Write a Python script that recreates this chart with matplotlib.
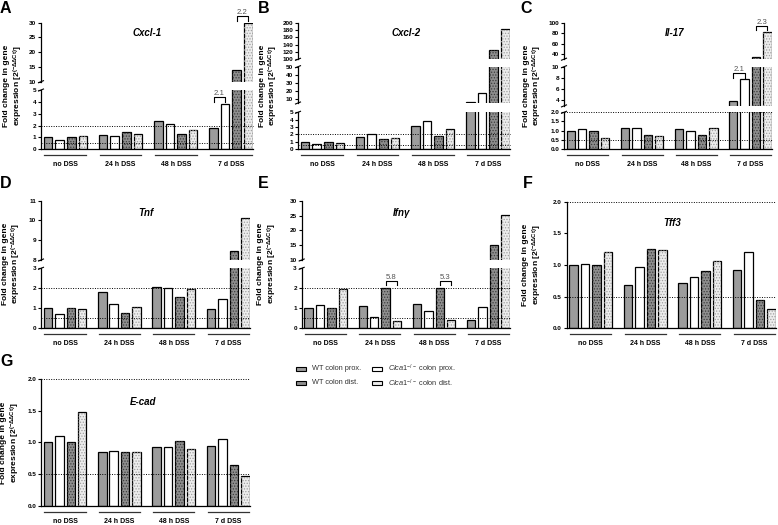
import numpy as np
import matplotlib
matplotlib.use('Agg')
import matplotlib.pyplot as plt
import matplotlib.transforms as mtransforms
from matplotlib.lines import Line2D
from matplotlib.patches import Rectangle

plt.rcParams['font.family'] = ['Liberation Sans', 'DejaVu Sans']
plt.rcParams['mathtext.fontset'] = 'custom'
plt.rcParams['mathtext.rm'] = 'Liberation Sans'
plt.rcParams['mathtext.it'] = 'Liberation Sans:italic'
plt.rcParams['mathtext.bf'] = 'Liberation Sans:bold'
plt.rcParams['hatch.linewidth'] = 0.6

# groups on the x axis
groups = ['no DSS', '24 h DSS', '48 h DSS', '7 d DSS']

# per gene: rows = WT prox, Clca1-/- prox, WT dist, Clca1-/- dist ; columns = groups
cxcl1 = [[1.0, 1.2, 2.4, 1.8],
         [0.79, 1.15, 2.1, 3.8],
         [1.0, 1.45, 1.3, 13.8],
         [1.1, 1.33, 1.65, 29.8]]
cxcl2 = [[1.0, 1.7, 3.2, 6.5],
         [0.73, 2.1, 3.85, 17.0],
         [1.0, 1.38, 1.8, 125.0],
         [0.87, 1.5, 2.7, 183.0]]
il17 = [[1.0, 1.13, 1.07, 3.8],
        [1.1, 1.16, 0.98, 7.75],
        [1.0, 0.78, 0.78, 35.0],
        [0.6, 0.69, 1.15, 82.0]]
tnf = [[1.0, 1.79, 2.07, 0.93],
       [0.67, 1.18, 2.02, 1.43],
       [1.0, 0.76, 1.53, 8.47],
       [0.93, 1.05, 1.94, 10.1]]
ifng = [[1.0, 1.1, 1.2, 0.39],
        [1.15, 0.54, 0.84, 1.05],
        [1.0, 2.02, 2.02, 15.1],
        [1.96, 0.35, 0.39, 25.2]]
tff3 = [[1.0, 0.69, 0.72, 0.92],
        [1.01, 0.97, 0.81, 1.21],
        [1.0, 1.26, 0.91, 0.45],
        [1.21, 1.23, 1.07, 0.30]]
ecad = [[1.0, 0.84, 0.93, 0.94],
        [1.1, 0.87, 0.92, 1.05],
        [1.0, 0.85, 1.02, 0.64],
        [1.48, 0.84, 0.90, 0.47]]

face = ['#9c9c9c', 'white', '#8e8e8e', '#ededed']
hatch_col = [None, None, '#3c3c3c', '#a0a0a0']

W, H = 778, 525
fig = plt.figure(figsize=(W / 100, H / 100), dpi=100)


def fx(x):
    return x / W


def fy(y):
    return 1 - y / H


def fig_line(xs, ys, **kw):
    fig.add_artist(Line2D([fx(x) for x in xs], [fy(y) for y in ys],
                          transform=fig.transFigure, **kw))


PITCH = 4.75
WIDTH = 0.74
XLIM = (-0.6, 17.65)
YLAB = 'Fold change in gene\nexpression [2$^{\\mathbf{(-\\Delta\\Delta Ct)}}$]'


def draw_panel(letter, letter_xy, title, title_xy, values, x0, x1, segs,
               ylab_x, decimals=False, brackets=()):
    axes = []
    for k, (lo, hi, pb, pt, ticks) in enumerate(segs):
        ax = fig.add_axes([fx(x0), fy(pb), fx(x1) - fx(x0), (pb - pt) / H])
        ax.set_xlim(*XLIM)
        ax.set_ylim(lo, hi)
        for s in range(4):
            xs = [g * PITCH + s for g in range(4)]
            ax.bar(xs, values[s], width=WIDTH, color=face[s],
                   edgecolor='black', linewidth=0.9, zorder=2)
            if hatch_col[s]:
                ax.bar(xs, values[s], width=WIDTH, color='none',
                       edgecolor=hatch_col[s], linewidth=0, hatch='......',
                       zorder=2.1)
        for sp in ['top', 'right']:
            ax.spines[sp].set_visible(False)
        ax.spines['left'].set_linewidth(0.9)
        ax.set_xticks([])
        ax.set_yticks(ticks)
        if decimals and k == 0:
            ax.set_yticklabels(['%.1f' % t for t in ticks])
        else:
            ax.set_yticklabels(['%g' % t for t in ticks])
        ax.tick_params(axis='y', length=2.5, width=0.8, pad=1, labelsize=4.6)
        for lab in ax.get_yticklabels():
            lab.set_fontweight('bold')
        if k == 0:
            ax.spines['bottom'].set_linewidth(0.9)
            for ref in (0.5, 2.0):
                if ref <= hi:
                    ax.axhline(ref, ls=(0, (1, 1.5)), color='black', lw=0.7,
                               zorder=3, clip_on=False)
            t_line = mtransforms.offset_copy(ax.get_xaxis_transform(), fig=fig,
                                             y=-6 * 0.72, units='points')
            t_lab = mtransforms.offset_copy(ax.get_xaxis_transform(), fig=fig,
                                            y=-15.5 * 0.72, units='points')
            for g in range(4):
                ax.plot([g * PITCH - 0.3, g * PITCH + 3.3], [0, 0], color='#333333',
                        lw=0.9, transform=t_line, clip_on=False)
                ax.text(g * PITCH + 1.5, 0, groups[g], transform=t_lab,
                        ha='center', va='center', fontsize=5, fontweight='bold')
        else:
            ax.spines['bottom'].set_visible(False)
            prev_top = segs[k - 1][3]
            for yb in (pb, prev_top):
                fig_line([x0 - 2.5, x0 + 2.5], [yb + 1, yb - 1], color='black', lw=0.8)
        axes.append(ax)

    for (seg, g, a, b, yb, yl, txt) in brackets:
        ax = axes[seg]
        xa, xb = g * PITCH + a, g * PITCH + b
        ax.plot([xa, xa, xb, xb], [yl, yb, yb, yl], color='black', lw=0.8,
                clip_on=False, zorder=4)
        ax.text((xa + xb) / 2, yb, txt, ha='center', va='bottom', fontsize=5.6,
                color='#555555')

    fig.text(fx(title_xy[0]), fy(title_xy[1]), title, ha='center', va='center',
             fontsize=7, fontstyle='italic', fontweight='bold')
    fig.text(fx(letter_xy[0]), fy(letter_xy[1]), letter, ha='left', va='top',
             fontsize=11.5, fontweight='bold')
    ymid = (segs[0][2] + segs[-1][3]) / 2
    fig.text(fx(ylab_x), fy(ymid), YLAB, rotation=90, ha='center', va='center',
             fontsize=6, fontweight='bold', linespacing=1.15)
    return axes


# A
draw_panel('A', (0, 1), 'Cxcl-1', (147, 33), cxcl1, 41, 253,
           [(0, 5, 149.3, 90, [0, 1, 2, 3, 4, 5]),
            (10, 30, 81.7, 22.7, [10, 15, 20, 25, 30])],
           14,
           brackets=[(0, 3, 0, 1, 4.38, 4.0, '2.1'),
                     (1, 3, 2, 3, 32.3, 30.6, '2.2')])
# B
draw_panel('B', (258, 1), 'Cxcl-2', (406, 33), cxcl2, 298, 510,
           [(0, 5, 149, 112.3, [0, 1, 2, 3, 4, 5]),
            (5, 50, 103, 66.7, [10, 20, 30, 40, 50]),
            (100, 200, 59.3, 22.7, [100, 120, 140, 160, 180, 200])],
           269.5)
# C
draw_panel('C', (520, 1), 'Il-17', (675, 33), il17, 564, 772,
           [(0, 2, 149, 112.3, [0, 0.5, 1, 1.5, 2]),
            (3, 10, 105.9, 66.7, [4, 6, 8, 10]),
            (30, 100, 59.2, 22.7, [40, 60, 80, 100])],
           533.5, decimals=True,
           brackets=[(1, 3, 0, 1, 8.8, 8.0, '2.1'),
                     (2, 3, 2, 3, 93.6, 86.0, '2.3')])
# D
draw_panel('D', (0, 176), 'Tnf', (146, 213), tnf, 41, 250,
           [(0, 3, 327.7, 268.3, [0, 1, 2, 3]),
            (8, 11, 260, 200.7, [8, 9, 10, 11])],
           12.5)
# E
draw_panel('E', (258, 176), 'Ifn\u03b3', (402, 213), ifng, 301.7, 510,
           [(0, 3, 327.7, 268.3, [0, 1, 2, 3]),
            (10, 30, 260, 200.7, [10, 15, 20, 25, 30])],
           268,
           brackets=[(0, 1, 2, 3, 2.36, 2.16, '5.8'),
                     (0, 2, 2, 3, 2.36, 2.16, '5.3')])
# F
draw_panel('F', (523, 176), 'Tff3', (672, 223), tff3, 566.7, 776,
           [(0, 2, 328.3, 201.7, [0, 0.5, 1, 1.5, 2])],
           533, decimals=True)
# G
draw_panel('G', (0, 354), 'E-cad', (143, 401.7), ecad, 41, 250,
           [(0, 2, 505.7, 379, [0, 0.5, 1, 1.5, 2])],
           11, decimals=True)

# legend
leg_labels = ['WT colon prox.', 'WT colon dist.',
              '$\\mathit{Clca1}^{-/-}$ colon prox.', '$\\mathit{Clca1}^{-/-}$ colon dist.']
leg_series = [0, 2, 1, 3]
leg_pos = [(296, 369), (296, 383), (372, 369), (372, 383)]
for lab, s, (px, py) in zip(leg_labels, leg_series, leg_pos):
    r = Rectangle((fx(px), fy(py + 2)), 10 / W, 4 / H, transform=fig.transFigure,
                  facecolor=face[s], edgecolor='black', linewidth=0.8)
    fig.add_artist(r)
    fig.text(fx(px + 16), fy(py), lab, ha='left', va='center', fontsize=5.3,
             color='#333333')

fig.savefig('out.png', dpi=100)
